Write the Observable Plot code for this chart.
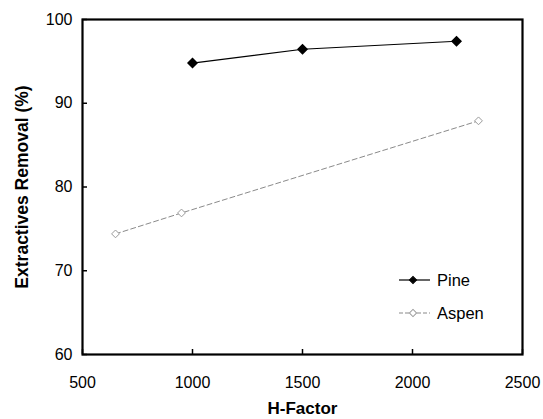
<!DOCTYPE html>
<html>
<head>
<meta charset="utf-8">
<script src="https://cdn.jsdelivr.net/npm/d3@7"></script>
<script src="https://cdn.jsdelivr.net/npm/@observablehq/plot@0.6"></script>
<style>
  html, body { margin: 0; padding: 0; background: #fff; }
  #chart { width: 543px; height: 419px; }
  svg { font-family: "Liberation Sans", Arial, sans-serif; }
</style>
</head>
<body>
<div id="chart"></div>
<script>
const seriesNames = ["Pine", "Aspen"];
const pineH = [1000, 1500, 2200];
const pineValues = [94.8, 96.45, 97.4];
const aspenH = [650, 950, 2300];
const aspenValues = [74.4, 76.9, 87.9];
const xTicks = [500, 1000, 1500, 2000, 2500];
const yTicks = [60, 70, 80, 90, 100];
const xTitle = "H-Factor";
const yTitle = "Extractives Removal (%)";

const pine = pineH.map((h, i) => ({h, v: pineValues[i]}));
const aspen = aspenH.map((h, i) => ({h, v: aspenValues[i]}));

const W = 543, H = 419;
const mL = 82, mR = 21, mT = 19, mB = 65;
const innerW = W - mL - mR, innerH = H - mT - mB;

const plot = Plot.plot({
  width: W,
  height: H,
  marginLeft: mL,
  marginRight: mR,
  marginTop: mT,
  marginBottom: mB,
  style: {fontFamily: "Liberation Sans, Arial, sans-serif", fontSize: "16px", color: "#000", background: "#fff"},
  x: {domain: [500, 2500]},
  y: {domain: [60, 100]},
  marks: [
    Plot.axisX(xTicks, {tickSize: 0, tickPadding: 22, tickFormat: d => String(d), fontSize: 16, label: null}),
    Plot.axisY(yTicks, {tickSize: 0, tickPadding: 10, tickFormat: d => String(d), fontSize: 16, label: null}),
    Plot.tickX(xTicks, {x: d => d, insetTop: innerH - 5, stroke: "#000", strokeWidth: 1.5}),
    Plot.tickY(yTicks, {y: d => d, insetRight: innerW - 5, stroke: "#000", strokeWidth: 1.5}),
    Plot.line(aspen, {x: "h", y: "v", stroke: "#8a8a8a", strokeWidth: 1, strokeDasharray: "5,3"}),
    Plot.dot(aspen, {x: "h", y: "v", symbol: "diamond2", r: 3.5, fill: "#fff", stroke: "#9a9a9a", strokeWidth: 1}),
    Plot.line(pine, {x: "h", y: "v", stroke: "#000", strokeWidth: 1.2}),
    Plot.dot(pine, {x: "h", y: "v", symbol: "diamond2", r: 4, fill: "#000", stroke: "#000"}),
    Plot.frame({stroke: "#000", strokeWidth: 2.2}),
    Plot.text([xTitle], {frameAnchor: "bottom", dy: 54, text: d => d, fontWeight: "bold", fontSize: 17, textAnchor: "middle", lineAnchor: "middle", fill: "#000"}),
    Plot.text([yTitle], {frameAnchor: "left", dx: -60, rotate: -90, text: d => d, fontWeight: "bold", fontSize: 17.5, textAnchor: "middle", lineAnchor: "middle", fill: "#000"})
  ]
});

document.getElementById("chart").appendChild(plot);

// Legend inside the plot area
const svg = d3.select(plot);
const legendStyles = [
  {stroke: "#000", dash: null, fill: "#000", mstroke: "#000"},
  {stroke: "#8a8a8a", dash: "4,2", fill: "#fff", mstroke: "#9a9a9a"}
];
const lg = svg.append("g");
seriesNames.forEach((name, i) => {
  const y = 280 + i * 33;
  const s = legendStyles[i];
  lg.append("line").attr("x1", 399).attr("x2", 430).attr("y1", y).attr("y2", y)
    .attr("stroke", s.stroke).attr("stroke-width", 1.2).attr("stroke-dasharray", s.dash);
  lg.append("path").attr("d", d3.symbol(d3.symbolSquare, 26)())
    .attr("transform", `translate(413,${y}) rotate(45)`)
    .attr("fill", s.fill).attr("stroke", s.mstroke);
  lg.append("text").attr("x", 437).attr("y", y).attr("dy", "0.35em")
    .attr("text-anchor", "start")
    .attr("font-size", 16.5).attr("fill", "#000").text(name);
});
</script>
</body>
</html>
